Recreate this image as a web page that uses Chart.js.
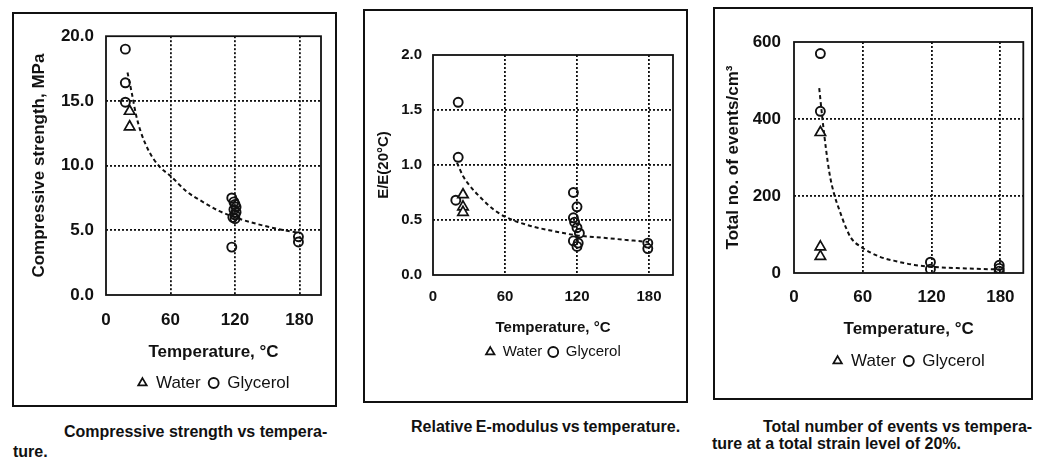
<!DOCTYPE html>
<html>
<head>
<meta charset="utf-8">
<script src="https://cdn.jsdelivr.net/npm/chart.js@4/dist/chart.umd.min.js"></script>
<style>
  body { margin: 0; background: #fff; }
  #page { position: relative; width: 1037px; height: 459px; overflow: hidden; font-family: "Liberation Sans", Arial, sans-serif; color: #111; }
  .box { position: absolute; border: 2px solid #111; box-sizing: border-box; }
  .box canvas { position: absolute; left: 0; top: 0; }
  .cap { position: absolute; font-weight: bold; font-size: 16px; white-space: nowrap; }
</style>
</head>
<body>
<div id="page">
  <div class="box" style="left:12px;top:12px;width:325px;height:395px"><canvas id="c1" width="321" height="391"></canvas></div>
  <div class="box" style="left:363px;top:9px;width:325px;height:394px"><canvas id="c2" width="321" height="390"></canvas></div>
  <div class="box" style="left:713px;top:7px;width:320px;height:393px"><canvas id="c3" width="316" height="389"></canvas></div>

  <div class="cap" style="left:13px;top:422px;line-height:20px;text-indent:51px">Compressive strength vs tempera-<br>ture.</div>
  <div class="cap" style="left:411px;top:417px;line-height:20px;word-spacing:-1px">Relative E-modulus vs temperature.</div>
  <div class="cap" style="left:712px;top:418px;line-height:17px;text-indent:51px">Total number of events vs tempera-<br>ture at a total strain level of 20%.</div>
</div>
<script>
// shared x axis
const xTicks = [0, 60, 120, 180];

// Compressive strength vs temperature
const csYTicks = [0, 5, 10, 15, 20];
const csGlyTemp = [18, 18, 18, 117, 119, 120, 121, 119, 121, 120, 118, 120, 117, 179, 179];
const csGlyVal = [19.0, 16.4, 14.9, 7.5, 7.2, 7.0, 6.8, 6.6, 6.4, 6.2, 6.0, 5.9, 3.7, 4.5, 4.1];
const csWatTemp = [22, 22];
const csWatVal = [14.2, 13.0];
const csFitTemp = [20, 24, 28, 32, 40, 50, 60, 75, 90, 105, 120, 140, 160, 180];
const csFitVal = [17.2, 15.6, 13.9, 12.7, 11.1, 9.9, 9.2, 8.0, 7.2, 6.5, 6.0, 5.5, 5.1, 4.8];

// Relative E-modulus vs temperature
const emYTicks = [0, 0.5, 1.0, 1.5, 2.0];
const emGlyTemp = [21, 21, 19, 117, 120, 117, 118, 120, 122, 117, 121, 120, 179, 179];
const emGlyVal = [1.57, 1.07, 0.68, 0.75, 0.62, 0.52, 0.48, 0.43, 0.38, 0.31, 0.29, 0.26, 0.29, 0.24];
const emWatTemp = [25, 25, 25];
const emWatVal = [0.73, 0.62, 0.57];
const emFitTemp = [20, 25, 30, 40, 50, 60, 80, 100, 120, 140, 160, 180];
const emFitVal = [1.02, 0.90, 0.82, 0.70, 0.60, 0.53, 0.45, 0.40, 0.36, 0.34, 0.32, 0.30];

// Total number of events vs temperature
const evYTicks = [0, 200, 400, 600];
const evGlyTemp = [23, 23, 119, 119, 179, 179, 179];
const evGlyVal = [570, 420, 28, 10, 20, 12, 5];
const evWatTemp = [23, 23, 23];
const evWatVal = [365, 68, 43];
const evFitTemp = [22, 25, 28, 31, 35, 40, 45, 50, 60, 75, 90, 105, 120, 150, 180];
const evFitVal = [480, 395, 320, 258, 205, 160, 120, 90, 65, 42, 30, 21, 16, 12, 9];

Chart.defaults.font.family = '"Liberation Sans", Arial, sans-serif';
Chart.defaults.color = '#111';

function pts(xs, ys) {
  return xs.map((x, i) => ({ x: x, y: ys[i] }));
}

// solid box round the plot area
const frame = {
  id: 'frame',
  beforeDatasetsDraw(chart) {
    const a = chart.chartArea;
    const ctx = chart.ctx;
    ctx.save();
    ctx.setLineDash([]);
    ctx.strokeStyle = '#111';
    ctx.lineWidth = 1.8;
    ctx.strokeRect(a.left, a.top, a.right - a.left, a.bottom - a.top);
    ctx.restore();
  }
};

function gridColor(max) {
  return c => (c.tick && (c.tick.value === 0 || c.tick.value === max)) ? 'rgba(0,0,0,0)' : '#111';
}

function makeChart(id, o) {
  return new Chart(document.getElementById(id), {
    type: 'scatter',
    data: {
      datasets: [
        { label: 'Water', data: pts(o.watT, o.watV), pointStyle: 'triangle', pointRadius: 6,
          borderColor: '#111', backgroundColor: '#fff', borderWidth: 1.7 },
        { label: 'Glycerol', data: pts(o.glyT, o.glyV), pointStyle: 'circle', pointRadius: 4.5,
          borderColor: '#111', backgroundColor: 'rgba(255,255,255,0)', borderWidth: 1.9 },
        { label: 'fit', data: pts(o.fitT, o.fitV), showLine: true, pointRadius: 0,
          borderColor: '#111', borderWidth: 2, borderDash: [4, 3], cubicInterpolationMode: 'monotone', fill: false }
      ]
    },
    options: {
      responsive: false,
      animation: false,
      layout: { padding: o.pad },
      plugins: {
        tooltip: { enabled: false },
        legend: {
          position: 'bottom',
          fullSize: false,
          labels: {
            usePointStyle: true, boxWidth: 10, boxHeight: 7, padding: o.legPad,
            color: '#111', font: { size: o.legSize },
            filter: it => it.text !== 'fit'
          }
        }
      },
      scales: {
        x: {
          type: 'linear', min: 0, max: 200,
          afterBuildTicks: s => { s.ticks = xTicks.map(v => ({ value: v })); },
          afterFit: s => { s.height = o.xh; },
          grid: { color: gridColor(200), lineWidth: 1.8, drawTicks: false },
          border: { display: false, dash: [2, 2] },
          ticks: { padding: o.xtPad, font: { size: o.tick, weight: 'bold' }, color: '#111' },
          title: { display: true, text: 'Temperature, °C', padding: { top: 0, bottom: o.xtitlePad },
                   font: { size: o.title, weight: 'bold' }, color: '#111' }
        },
        y: {
          min: 0, max: o.yTicks[o.yTicks.length - 1],
          afterBuildTicks: s => { s.ticks = o.yTicks.map(v => ({ value: v })); },
          afterFit: s => { s.width = o.yw; },
          grid: { color: gridColor(o.yTicks[o.yTicks.length - 1]), lineWidth: 1.8, drawTicks: false },
          border: { display: false, dash: [2, 2] },
          ticks: { padding: o.ytPad, font: { size: o.tick, weight: 'bold' }, color: '#111',
                   callback: v => v.toFixed(o.dec) },
          title: { display: true, text: o.ytitle, padding: { top: o.ytitlePad, bottom: 0 },
                   font: { size: o.title, weight: 'bold' }, color: '#111' }
        }
      }
    },
    plugins: [frame]
  });
}

makeChart('c1', {
  glyT: csGlyTemp, glyV: csGlyVal, watT: csWatTemp, watV: csWatVal, fitT: csFitTemp, fitV: csFitVal,
  yTicks: csYTicks, dec: 1, ytitle: 'Compressive strength, MPa',
  pad: { left: 0, top: 17, right: 14, bottom: 3.5 },
  yw: 92, xh: 71.5, tick: 17, title: 17, legSize: 17, legPad: 8,
  xtPad: 15, xtitlePad: 4.3, ytPad: 12, ytitlePad: 15
});

makeChart('c2', {
  glyT: emGlyTemp, glyV: emGlyVal, watT: emWatTemp, watV: emWatVal, fitT: emFitTemp, fitV: emFitVal,
  yTicks: emYTicks, dec: 1, ytitle: 'E/E(20°C)',
  pad: { left: 0, top: 44, right: 13, bottom: 31.5 },
  yw: 68, xh: 63.5, tick: 15, title: 15, legSize: 15, legPad: 6,
  xtPad: 13, xtitlePad: 1.5, ytPad: 11, ytitlePad: 10
});

makeChart('c3', {
  glyT: evGlyTemp, glyV: evGlyVal, watT: evWatTemp, watV: evWatVal, fitT: evFitTemp, fitV: evFitVal,
  yTicks: evYTicks, dec: 0, ytitle: 'Total no. of events/cm³',
  pad: { left: 0, top: 33, right: 7, bottom: 18.5 },
  yw: 79, xh: 71.5, tick: 17, title: 17, legSize: 17, legPad: 8,
  xtPad: 14, xtitlePad: 5.3, ytPad: 13, ytitlePad: 7.8
});
</script>
</body>
</html>
